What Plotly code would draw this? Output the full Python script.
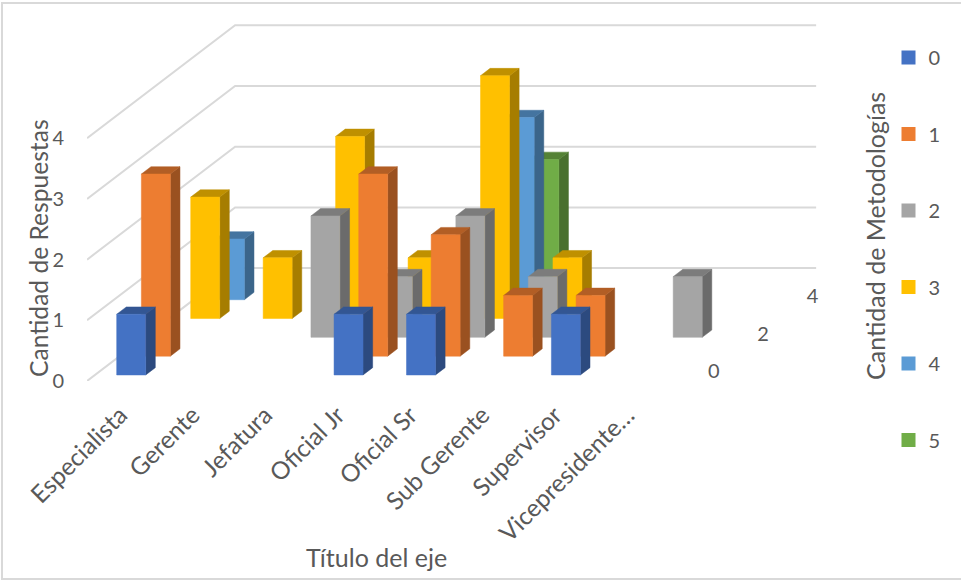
import plotly.graph_objects as go

# Survey data: respondents per job title, split by number of methodologies used
categories = ["Especialista", "Gerente", "Jefatura", "Oficial Jr", "Oficial Sr",
              "Sub Gerente", "Supervisor", "Vicepresidente…"]
series_names = ["0", "1", "2", "3", "4", "5"]
serie_0 = [1, None, None, 1, 1, None, 1, None]
serie_1 = [3, None, None, 3, 2, 1, 1, None]
serie_2 = [None, None, 2, 1, 2, 1, None, 1]
serie_3 = [2, 1, 3, 1, 4, 1, None, None]
serie_4 = [1, None, None, None, 3, None, None, None]
serie_5 = [None, None, None, None, 2, None, None, None]
all_series = [serie_0, serie_1, serie_2, serie_3, serie_4, serie_5]

front_colors = ["#4472C4", "#ED7D31", "#A5A5A5", "#FFC000", "#5B9BD5", "#70AD47"]
value_ticks = [0, 1, 2, 3, 4]
depth_ticks = [0, 2, 4]

TEXT = "#595959"
GRID = "#D9D9D9"
FONT = "Lato"

# Oblique projection: each unit of depth moves a point right and up on the page
DEPTH_X = 0.3405
DEPTH_Y = 0.31
BAR_W = 0.4
BAR_D = 0.39       # bar thickness, in depth units
BAR_OFFSET = 0.32  # gap between the front of a depth slot and its bar
WALL_DEPTH = 6
W, H = 961, 581


def project(cat, value, depth):
    return cat + depth * DEPTH_X, value + depth * DEPTH_Y


def shade(hex_color, factor):
    r, g, b = (int(hex_color[i:i + 2], 16) for i in (1, 3, 5))
    return f"rgb({round(r * factor)},{round(g * factor)},{round(b * factor)})"


def polygons(faces):
    xs, ys = [], []
    for face in faces:
        pts = [project(*p) for p in face]
        pts.append(pts[0])
        xs += [p[0] for p in pts] + [None]
        ys += [p[1] for p in pts] + [None]
    return xs, ys


fig = go.Figure()

# Back wall and side wall grid lines
for v in value_ticks:
    pts = [project(-0.5, v, 0), project(-0.5, v, WALL_DEPTH), project(7.52, v, WALL_DEPTH)]
    fig.add_trace(go.Scatter(x=[p[0] for p in pts], y=[p[1] for p in pts], mode="lines",
                             line=dict(color=GRID, width=2), showlegend=False,
                             hoverinfo="skip", cliponaxis=False))

# Bars, painted from the deepest series to the nearest
for s in reversed(range(len(all_series))):
    front, side, top = [], [], []
    d0 = s + BAR_OFFSET
    d1 = d0 + BAR_D
    for i, value in enumerate(all_series[s]):
        if value is None:
            continue
        x0, x1 = i - BAR_W / 2, i + BAR_W / 2
        front.append([(x0, 0, d0), (x1, 0, d0), (x1, value, d0), (x0, value, d0)])
        side.append([(x1, 0, d0), (x1, 0, d1), (x1, value, d1), (x1, value, d0)])
        top.append([(x0, value, d0), (x1, value, d0), (x1, value, d1), (x0, value, d1)])
    for faces, factor in ((side, 0.65), (top, 0.75), (front, 1.0)):
        xs, ys = polygons(faces)
        color = shade(front_colors[s], factor)
        fig.add_trace(go.Scatter(x=xs, y=ys, mode="lines", fill="toself", fillcolor=color,
                                 line=dict(color=color, width=0.5), showlegend=False,
                                 hoverinfo="skip", cliponaxis=False))

# Depth axis labels along the floor edge
depth_pts = [project(7.98, -0.03, d + 0.5) for d in depth_ticks]
fig.add_trace(go.Scatter(x=[p[0] for p in depth_pts], y=[p[1] for p in depth_pts], mode="text",
                         text=[str(d) for d in depth_ticks],
                         textfont=dict(family=FONT, size=20, color=TEXT),
                         showlegend=False, hoverinfo="skip", cliponaxis=False))

# Legend entries with square swatches
for name, color in zip(series_names, front_colors):
    fig.add_trace(go.Scatter(x=[None], y=[None], mode="markers", name=name, legendgroup=name,
                             marker=dict(symbol="square", size=14, color=color)))

fig.update_layout(
    width=W, height=H,
    margin=dict(l=87, r=144, t=20, b=200, autoexpand=False),
    paper_bgcolor="white", plot_bgcolor="white",
    font=dict(family=FONT, size=20, color=TEXT),
    xaxis=dict(range=[-0.501, 9.575], tickmode="array", tickvals=list(range(len(categories))),
               ticktext=categories, tickangle=-45, showgrid=False, zeroline=False, showline=False,
               ticks="", ticklabelstandoff=14, ticklabelshift=-3,
               tickfont=dict(family=FONT, size=24.5, color=TEXT)),
    yaxis=dict(range=[0, 5.947], tickmode="array", tickvals=value_ticks, showgrid=False,
               zeroline=False, showline=False, ticks="", ticklabelstandoff=22,
               tickfont=dict(family=FONT, size=20, color=TEXT)),
    legend=dict(x=888.5 / W, y=1 - 38 / H, xref="container", yref="container", xanchor="left",
                yanchor="top", traceorder="grouped", tracegroupgap=47.5, maxheight=530,
                itemwidth=30, bgcolor="rgba(0,0,0,0)",
                font=dict(family=FONT, size=20, color=TEXT)),
    shapes=[dict(type="rect", xref="paper", yref="paper", x0=(2 - 87) / 730, x1=(970 - 87) / 730,
                 y0=(381 - 579) / 361, y1=(381 - 3) / 361, line=dict(color=GRID, width=2),
                 layer="below")],
    annotations=[
        dict(text="Cantidad de Respuestas", xref="paper", yref="paper",
             x=(38 - 87) / 730, y=(381 - 248) / 361, textangle=-90, showarrow=False,
             xanchor="center", yanchor="middle",
             font=dict(family=FONT, size=24.6, color=TEXT)),
        dict(text="Título del eje", xref="paper", yref="paper",
             x=(376 - 87) / 730, y=(381 - 557) / 361, showarrow=False,
             xanchor="center", yanchor="middle",
             font=dict(family=FONT, size=25, color=TEXT)),
        dict(text="Cantidad de Metodologías", xref="paper", yref="paper",
             x=(875 - 87) / 730, y=(381 - 236) / 361, textangle=-90, showarrow=False,
             xanchor="center", yanchor="middle",
             font=dict(family=FONT, size=25, color=TEXT)),
    ],
)

fig.write_html("out.html", config=dict(displayModeBar=False))
